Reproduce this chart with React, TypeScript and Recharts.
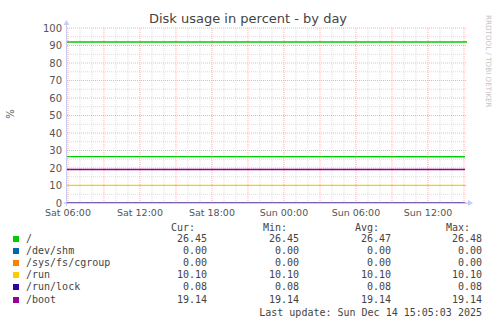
import React from 'react';
import { LineChart, Line, XAxis, YAxis, ReferenceLine } from 'recharts';

// sample times, in hours counted from Sat 00:00
const sampleHours = [5.92, 39.08];

// percent used per mount, at each sample time
const rootPct = [26.48, 26.45];
const devShmPct = [0, 0];
const cgroupPct = [0, 0];
const runPct = [10.1, 10.1];
const runLockPct = [0.08, 0.08];
const bootPct = [19.14, 19.14];

// warning threshold drawn for "/"
const rootWarning = 92;

const seriesKeys = ['root', 'devShm', 'cgroup', 'run', 'runLock', 'boot'];
const seriesNames = ['/', '/dev/shm', '/sys/fs/cgroup', '/run', '/run/lock', '/boot'];
const seriesColors = ['#00CC00', '#0066B3', '#FF8000', '#FFCC00', '#330099', '#990099'];

const curValues = [26.45, 0, 0, 10.1, 0.08, 19.14];
const minValues = [26.45, 0, 0, 10.1, 0.08, 19.14];
const avgValues = [26.47, 0, 0, 10.1, 0.08, 19.14];
const maxValues = [26.48, 0, 0, 10.1, 0.08, 19.14];

const xTicks = [6, 12, 18, 24, 30, 36];
const xTickLabels = ['Sat 06:00', 'Sat 12:00', 'Sat 18:00', 'Sun 00:00', 'Sun 06:00', 'Sun 12:00'];
const xMajorGrid = [6, 9, 12, 15, 18, 21, 24, 27, 30, 33, 36, 39];
const xMinorGrid = [7, 8, 10, 11, 13, 14, 16, 17, 19, 20, 22, 23, 25, 26, 28, 29, 31, 32, 34, 35, 37, 38];
const yTicks = [0, 10, 20, 30, 40, 50, 60, 70, 80, 90, 100];
const yMinorGrid = [5, 15, 25, 35, 45, 55, 65, 75, 85, 95];

const lastUpdate = 'Sun Dec 14 15:05:03 2025';

const W = 497;
const H = 324;
const PLOT_LEFT = 67;
const PLOT_TOP = 28;
const PLOT_RIGHT = 467;
const PLOT_BOTTOM = 203;

const SANS = '"DejaVu Sans", sans-serif';
const MONO = '"DejaVu Sans Mono", monospace';
const AXIS_COLOR = '#C8CCF4';
const AXIS_OVERLAY = '#A3AAED';
const MAJOR_GRID = '#F2B2B2';
const MINOR_GRID = '#DCDCDC';
const TEXT = '#555';

const series = [rootPct, devShmPct, cgroupPct, runPct, runLockPct, bootPct];
const chartData = sampleHours.map((t, i) => {
    const row: Record<string, number> = { t };
    seriesKeys.forEach((k, s) => {
        row[k] = series[s][i];
    });
    return row;
});

const legendCols = [
    { title: 'Cur:', values: curValues, right: 207 },
    { title: 'Min:', values: minValues, right: 299 },
    { title: 'Avg:', values: avgValues, right: 391 },
    { title: 'Max:', values: maxValues, right: 482 },
];

function Legend() {
    const rowTop = 233;
    const rowStep = 12.1;
    const text: React.CSSProperties = {
        position: 'absolute',
        fontFamily: MONO,
        fontSize: 10,
        lineHeight: '12px',
        color: '#444',
        whiteSpace: 'pre',
    };
    return (
        <>
            {legendCols.map((c) => (
                <div key={c.title} style={{ ...text, top: 222, right: W - c.right + 12 }}>
                    {c.title}
                </div>
            ))}
            {seriesNames.map((name, i) => (
                <React.Fragment key={name}>
                    <div
                        style={{
                            position: 'absolute',
                            left: 13,
                            top: rowTop + i * rowStep + 3,
                            width: 6,
                            height: 6,
                            background: seriesColors[i],
                        }}
                    />
                    <div style={{ ...text, left: 26, top: rowTop + i * rowStep }}>{name}</div>
                    {legendCols.map((c) => (
                        <div key={c.title} style={{ ...text, top: rowTop + i * rowStep, right: W - c.right }}>
                            {c.values[i].toFixed(2)}
                        </div>
                    ))}
                </React.Fragment>
            ))}
            <div style={{ ...text, top: 307, right: W - 482 }}>{`Last update: ${lastUpdate}`}</div>
        </>
    );
}

function Decorations() {
    return (
        <svg
            width={W}
            height={H}
            style={{ position: 'absolute', left: 0, top: 0, pointerEvents: 'none' }}
        >
            <text x={248} y={23} textAnchor="middle" fontFamily={SANS} fontSize={13} fill="#444">
                Disk usage in percent - by day
            </text>
            <text
                transform="translate(14,114) rotate(-90)"
                textAnchor="middle"
                fontFamily={SANS}
                fontSize={10}
                fill={TEXT}
            >
                %
            </text>
            <text
                transform="translate(486,15) rotate(90)"
                fontFamily={SANS}
                fontSize={7.2}
                fill="#C4C4C4"
            >
                RRDTOOL / TOBI OETIKER
            </text>
            {/* axes with arrow heads; the x axis is laid over the zero-level lines */}
            <line x1={PLOT_LEFT - 0.5} y1={PLOT_BOTTOM + 3} x2={PLOT_LEFT - 0.5} y2={PLOT_TOP - 4} stroke={AXIS_COLOR} />
            <polygon
                points={`${PLOT_LEFT - 3.5},${PLOT_TOP - 3} ${PLOT_LEFT + 2.5},${PLOT_TOP - 3} ${PLOT_LEFT - 0.5},${PLOT_TOP - 8}`}
                fill={AXIS_COLOR}
            />
            <line
                x1={PLOT_LEFT - 3}
                y1={PLOT_BOTTOM}
                x2={PLOT_RIGHT + 2}
                y2={PLOT_BOTTOM}
                stroke={AXIS_OVERLAY}
                strokeOpacity={0.6}
                strokeWidth={1.4}
            />
            <polygon
                points={`${PLOT_RIGHT + 1},${PLOT_BOTTOM - 3} ${PLOT_RIGHT + 1},${PLOT_BOTTOM + 3} ${PLOT_RIGHT + 6},${PLOT_BOTTOM}`}
                fill={AXIS_COLOR}
            />
        </svg>
    );
}

export default function App() {
    return (
        <div
            style={{
                position: 'fixed',
                left: 0,
                top: 0,
                width: W,
                height: H,
                background: '#fff',
                overflow: 'hidden',
            }}
        >
            <LineChart
                width={W}
                height={H}
                data={chartData}
                margin={{ top: PLOT_TOP, right: W - PLOT_RIGHT, bottom: H - PLOT_BOTTOM - 20, left: PLOT_LEFT - 40 }}
            >
                <XAxis
                    dataKey="t"
                    type="number"
                    domain={[5.92, 39.25]}
                    allowDataOverflow
                    ticks={xTicks}
                    tickFormatter={(v: number) => xTickLabels[xTicks.indexOf(v)] ?? ''}
                    axisLine={false}
                    tickLine={false}
                    tickSize={0}
                    tickMargin={6}
                    height={20}
                    tick={{ fontFamily: SANS, fontSize: 9.5, fill: TEXT }}
                    interval={0}
                />
                <YAxis
                    type="number"
                    domain={[0, 100]}
                    allowDataOverflow
                    ticks={yTicks}
                    axisLine={false}
                    tickLine={false}
                    tickSize={0}
                    tickMargin={5}
                    width={40}
                    tick={{ fontFamily: SANS, fontSize: 10, fill: TEXT }}
                    interval={0}
                />
                {yMinorGrid.map((v) => (
                    <ReferenceLine key={`ym${v}`} y={v} stroke={MINOR_GRID} strokeDasharray="1 1" />
                ))}
                {xMinorGrid.map((v) => (
                    <ReferenceLine key={`xm${v}`} x={v} stroke={MINOR_GRID} strokeDasharray="1 1" />
                ))}
                {yTicks.map((v) => (
                    <ReferenceLine key={`yM${v}`} y={v} stroke={MAJOR_GRID} strokeDasharray="1 1" />
                ))}
                {xMajorGrid.map((v) => (
                    <ReferenceLine key={`xM${v}`} x={v} stroke={MAJOR_GRID} strokeDasharray="1 1" />
                ))}
                <ReferenceLine y={rootWarning} stroke={seriesColors[0]} strokeWidth={1.4} />
                {seriesKeys.map((k, i) => (
                    <Line
                        key={k}
                        dataKey={k}
                        name={seriesNames[i]}
                        type="linear"
                        stroke={seriesColors[i]}
                        strokeWidth={1.4}
                        dot={false}
                        isAnimationActive={false}
                    />
                ))}
            </LineChart>
            <Decorations />
            <Legend />
        </div>
    );
}
